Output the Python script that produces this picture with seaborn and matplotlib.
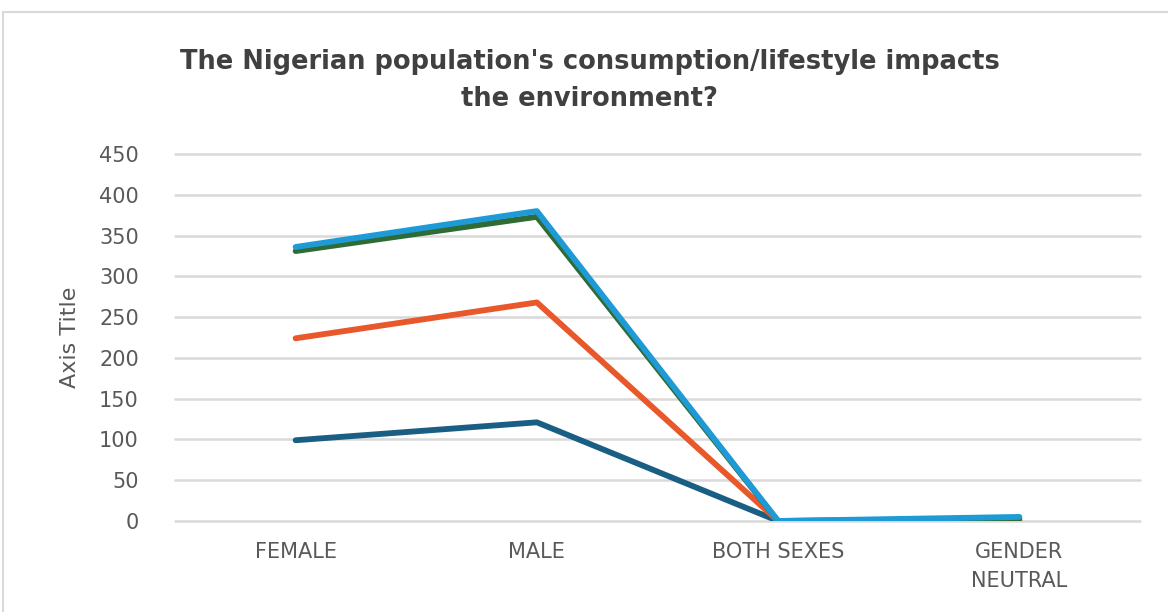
import pandas as pd
import matplotlib
matplotlib.use("Agg")
import matplotlib.pyplot as plt
import seaborn as sns

# Datos
categories = ["FEMALE", "MALE", "BOTH SEXES", "GENDER\nNEUTRAL"]
series_names = ["Serie 1", "Serie 2", "Serie 3", "Serie 4"]
serie_1 = [99, 121, 0, 0]
serie_2 = [224, 268, 0, 1]
serie_3 = [331, 373, 0, 3]
serie_4 = [336, 380, 0, 5]
colors = ["#1B5E83", "#E8582A", "#2E6B35", "#1E9BD7"]

# Tabla larga para seaborn
rows = []
for name, vals in zip(series_names, [serie_1, serie_2, serie_3, serie_4]):
    for i, v in enumerate(vals):
        rows.append({"pos": i, "value": v, "serie": name})
data = pd.DataFrame(rows)

sns.set_theme(style="white")
plt.rcParams['font.family'] = ['DejaVu Sans']

fig = plt.figure(figsize=(11.68, 6.12), dpi=100)
ax = fig.add_axes([175 / 1168, 1 - 521 / 612, 965 / 1168, 367 / 612])

sns.lineplot(data=data, x="pos", y="value", hue="serie", palette=colors,
             linewidth=4.2, legend=False, ax=ax, solid_capstyle="round")

ax.set_xlim(-0.5, 3.5)
ax.set_ylim(0, 450)
ax.set_yticks(range(0, 451, 50))
ax.set_xticks(range(len(categories)))
ax.set_xticklabels(categories, color="#595959", fontsize=15, linespacing=1.6)
ax.tick_params(axis="y", labelcolor="#595959", labelsize=15, pad=26, length=0)
ax.tick_params(axis="x", pad=15, length=0)
ax.grid(axis="y", color="#D9D9D9", linewidth=1.8)
for gl in ax.get_ygridlines():
    gl.set_clip_on(False)
ax.set_axisbelow(True)
for s in ax.spines.values():
    s.set_visible(False)
ax.set_xlabel("")
ax.set_ylabel("Axis Title", color="#595959", fontsize=16, labelpad=14)

fig.text(0.505, 0.868, "The Nigerian population's consumption/lifestyle impacts\nthe environment?",
         ha="center", va="center", fontsize=18.5, fontweight="bold", color="#404040",
         linespacing=1.55)

# Borde del área del gráfico
fig.add_artist(plt.Line2D([3 / 1168, 1], [1 - 12 / 612, 1 - 12 / 612], color="#D9D9D9", linewidth=1.5))
fig.add_artist(plt.Line2D([3 / 1168, 3 / 1168], [0, 1 - 12 / 612], color="#D9D9D9", linewidth=1.5))

fig.savefig("out.png", dpi=100, facecolor="white")
